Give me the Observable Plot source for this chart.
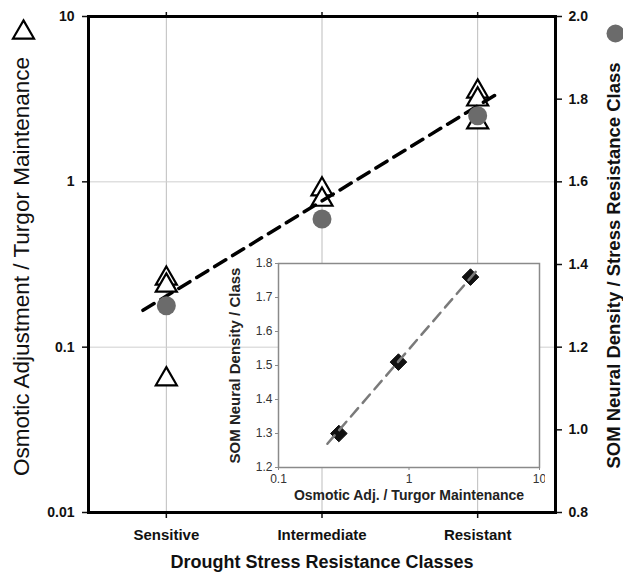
<!DOCTYPE html>
<html>
<head>
<meta charset="utf-8">
<script src="https://cdn.jsdelivr.net/npm/d3@7"></script>
<script src="https://cdn.jsdelivr.net/npm/@observablehq/plot@0.6"></script>
<style>
  html, body { margin: 0; padding: 0; background: #fff; }
  #wrap { position: relative; width: 623px; height: 576px; }
  #inset { position: absolute; left: 225px; top: 250px; }
</style>
</head>
<body>
<div id="wrap"><div id="main"></div><div id="inset"></div></div>
<script>
// ---------- data ----------
const categories = ["Sensitive", "Intermediate", "Resistant"];
const xTitle = "Drought Stress Resistance Classes";
const leftTitle = "Osmotic Adjustment / Turgor Maintenance";
const rightTitle = "SOM Neural Density / Stress Resistance Class";

const leftTicks = [0.01, 0.1, 1, 10];
const rightTicks = [0.8, 1.0, 1.2, 1.4, 1.6, 1.8, 2.0];
const rightDomain = [0.8, 2.0];

// triangles: osmotic adjustment / turgor maintenance (left, log axis)
const triCategory = ["Sensitive", "Sensitive", "Sensitive", "Intermediate", "Intermediate", "Resistant", "Resistant", "Resistant"];
const triValue = [0.26, 0.236, 0.064, 0.90, 0.78, 3.52, 3.15, 2.29];

// circles: SOM neural density / stress resistance class (right axis)
const somCategory = ["Sensitive", "Intermediate", "Resistant"];
const somValue = [1.30, 1.51, 1.76];

// dashed trend line (class position, left-axis value)
const trendPos = [-0.15, 2.12];
const trendValue = [0.167, 3.38];

// inset
const insetTitleX = "Osmotic Adj. / Turgor Maintenance";
const insetTitleY = "SOM Neural Density / Class";
const insetXTicks = [0.1, 1, 10];
const insetYTicks = [1.2, 1.3, 1.4, 1.5, 1.6, 1.7, 1.8];
const insetX = [0.29, 0.83, 2.96];
const insetY = [1.30, 1.51, 1.76];
const insetTrendX = [0.237, 3.41];
const insetTrendY = [1.27, 1.785];

// ---------- helpers ----------
const font = "'Liberation Sans', Arial, Helvetica, sans-serif";
const [r0, r1] = rightDomain;
const toLeft = v => 10 ** (-2 + (v - r0) / (r1 - r0) * 3);
const fromLeft = d => r0 + (Math.log10(d) + 2) / 3 * (r1 - r0);
const catPos = c => categories.indexOf(c);

const tri = triCategory.map((c, i) => ({x: catPos(c), y: triValue[i]}));
const som = somCategory.map((c, i) => ({x: catPos(c), y: toLeft(somValue[i])}));
const trend = trendPos.map((p, i) => ({x: p, y: trendValue[i]}));
const catTicks = categories.map((c, i) => i);

const main = Plot.plot({
  width: 623,
  height: 576,
  marginLeft: 88,
  marginRight: 68,
  marginTop: 16,
  marginBottom: 64,
  style: {fontFamily: font, fontSize: "14px", fontWeight: "bold", color: "#111", background: "white"},
  x: {type: "linear", domain: [-0.5, 2.5], axis: null},
  y: {type: "log", domain: [0.01, 10], axis: null},
  marks: [
    Plot.gridX(catTicks, {stroke: "#bdbdbd", strokeOpacity: 1, strokeWidth: 1}),
    Plot.gridY([0.1, 1], {stroke: "#cfcfcf", strokeOpacity: 1, strokeWidth: 1}),
    Plot.axisX(catTicks, {anchor: "bottom", tickFormat: i => categories[i], tickSize: 6, tickPadding: 11, fontSize: 15, strokeWidth: 1.5, label: null}),
    Plot.axisX(catTicks, {anchor: "top", tickFormat: () => "", tickSize: 5, strokeWidth: 1.5, label: null}),
    Plot.axisY(leftTicks, {anchor: "left", tickFormat: d => String(d), tickSize: 6, tickPadding: 8, fontSize: 14, strokeWidth: 1.5, label: null}),
    Plot.axisY(rightTicks.map(toLeft), {anchor: "right", tickFormat: d => fromLeft(d).toFixed(1), tickSize: 6, tickPadding: 7, fontSize: 14, strokeWidth: 1.5, label: null}),
    Plot.dot(tri, {x: "x", y: "y", symbol: "triangle", r: 7.8, fill: "white", stroke: "black", strokeWidth: 2.2}),
    Plot.line(trend, {x: "x", y: "y", stroke: "black", strokeWidth: 3.5, strokeDasharray: "13,8"}),
    Plot.dot(som, {x: "x", y: "y", r: 9.5, fill: "#6b6b6b", stroke: "none"}),
    Plot.frame({stroke: "black", strokeWidth: 3}),
    Plot.text([xTitle], {frameAnchor: "bottom", dy: 55, text: d => d, fontSize: 18, fontWeight: "bold", textAnchor: "middle"}),
    Plot.text([leftTitle], {frameAnchor: "left", dx: -67, dy: 2, rotate: -90, text: d => d, fontSize: 22.5, fontWeight: "normal", textAnchor: "middle", lineAnchor: "middle"}),
    Plot.text([rightTitle], {frameAnchor: "right", dx: 59, dy: 1, rotate: -90, text: d => d, fontSize: 18.5, fontWeight: "bold", textAnchor: "middle", lineAnchor: "middle"}),
    Plot.dot([0], {frameAnchor: "top-left", dx: -65, dy: 16, symbol: "triangle", r: 7.8, fill: "white", stroke: "black", strokeWidth: 2.2}),
    Plot.dot([0], {frameAnchor: "top-right", dx: 60, dy: 17, r: 9, fill: "#6b6b6b", stroke: "none"})
  ]
});
document.getElementById("main").appendChild(main);

const insetData = insetX.map((x, i) => ({x, y: insetY[i]}));
const insetTrend = insetTrendX.map((x, i) => ({x, y: insetTrendY[i]}));

const inset = Plot.plot({
  width: 320,
  height: 255,
  marginLeft: 53,
  marginRight: 6,
  marginTop: 13,
  marginBottom: 38,
  style: {fontFamily: font, fontSize: "12px", background: "transparent", color: "#333"},
  x: {type: "log", domain: [0.1, 10], axis: null},
  y: {type: "linear", domain: [1.2, 1.8], axis: null},
  marks: [
    Plot.frame({fill: "white", stroke: "#8a8a8a", strokeWidth: 1.5}),
    Plot.axisX(insetXTicks, {anchor: "bottom", tickFormat: d => String(d), tickSize: 3, tickPadding: 4, stroke: "#8a8a8a", label: null}),
    Plot.axisY(insetYTicks, {anchor: "left", tickFormat: d => d.toFixed(1), tickSize: 3, tickPadding: 3, stroke: "#8a8a8a", label: null}),
    Plot.dot(insetData, {x: "x", y: "y", symbol: "diamond2", r: 7.5, fill: "#111", stroke: "#111", strokeWidth: 1}),
    Plot.line(insetTrend, {x: "x", y: "y", stroke: "#7a7a7a", strokeWidth: 2.5, strokeDasharray: "11,7"}),
    Plot.text([insetTitleX], {frameAnchor: "bottom", dy: 32, text: d => d, fontSize: 14, fontWeight: "bold", fill: "#222", textAnchor: "middle"}),
    Plot.text([insetTitleY], {frameAnchor: "left", dx: -43, rotate: -90, text: d => d, fontSize: 15, fontWeight: "bold", fill: "#222", textAnchor: "middle", lineAnchor: "middle"})
  ]
});
document.getElementById("inset").appendChild(inset);
</script>
</body>
</html>
